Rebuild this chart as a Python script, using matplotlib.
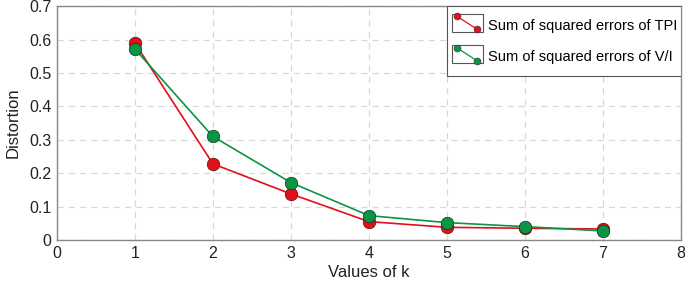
import numpy as np
import matplotlib.pyplot as plt
from matplotlib.legend_handler import HandlerBase
from matplotlib.lines import Line2D
from matplotlib.patches import Rectangle

plt.rcParams['font.family'] = ['Liberation Sans', 'DejaVu Sans']

k = [1, 2, 3, 4, 5, 6, 7]
sse_tpi = [0.590, 0.228, 0.138, 0.055, 0.038, 0.035, 0.033]
sse_vi = [0.572, 0.310, 0.172, 0.073, 0.052, 0.040, 0.027]
labels = ['Sum of squared errors of TPI', 'Sum of squared errors of V/I']

red = '#e0101c'
green = '#0b9444'


class BoxLineHandler(HandlerBase):
    # small framed box with a diagonal line and two dots
    def create_artists(self, legend, orig, xd, yd, width, height, fontsize, trans):
        c = orig.get_color()
        box = Rectangle((xd, yd - 2), width, height + 4, fill=False,
                        edgecolor='#555555', lw=0.8, transform=trans)
        ln = Line2D([xd + 3, xd + width - 4], [yd + height + 0.5, yd - 0.5],
                    color=c, lw=0.9, transform=trans)
        mk = Line2D([xd + 3, xd + width - 4], [yd + height + 0.5, yd - 0.5],
                    ls='none', marker='o', ms=5, mfc=c, mec='#333333', mew=0.4,
                    transform=trans)
        return [box, ln, mk]


fig, ax = plt.subplots(figsize=(6.85, 2.83), dpi=100)
fig.subplots_adjust(left=0.083, right=0.994, top=0.978, bottom=0.152)

l1, = ax.plot(k, sse_tpi, color=red, lw=1.2, marker='o', ms=9,
              mfc=red, mec='#5a1010', mew=0.5, zorder=3)
l2, = ax.plot(k, sse_vi, color=green, lw=1.2, marker='o', ms=9,
              mfc=green, mec='#0c3a1c', mew=0.5, zorder=4)

ax.set_xlim(0, 8)
ax.set_ylim(0, 0.7)
ax.set_xticks(range(0, 9))
ax.set_yticks(np.arange(0, 0.71, 0.1))
ax.set_yticklabels(['0', '0.1', '0.2', '0.3', '0.4', '0.5', '0.6', '0.7'])
ax.tick_params(length=0, labelsize=11.5, colors='#222222', pad=4)
ax.grid(True, ls=(0, (5, 4)), color='#d8d8d8', lw=0.9)
for s in ax.spines.values():
    s.set_color('#888888')
    s.set_linewidth(1.0)

ax.set_xlabel('Values of k', fontsize=12, color='#222222', labelpad=3)
ax.set_ylabel('Distortion', fontsize=12, color='#222222', labelpad=6)

# legend frame drawn by hand so the padding matches (tight on the right)
ax.add_patch(Rectangle((0.625, 0.70), 0.375, 0.30, transform=ax.transAxes,
                       facecolor='white', edgecolor='#555555', lw=0.8, zorder=5))
leg = ax.legend([l1, l2], labels, handler_map={Line2D: BoxLineHandler()},
                loc='upper right', bbox_to_anchor=(0.998, 0.956), fontsize=10.5,
                frameon=False, handlelength=2.1, handleheight=0.9,
                handletextpad=0.35, borderpad=0.15, labelspacing=1.2,
                borderaxespad=0.0)
leg.set_zorder(6)

fig.savefig('out.png', dpi=100)
